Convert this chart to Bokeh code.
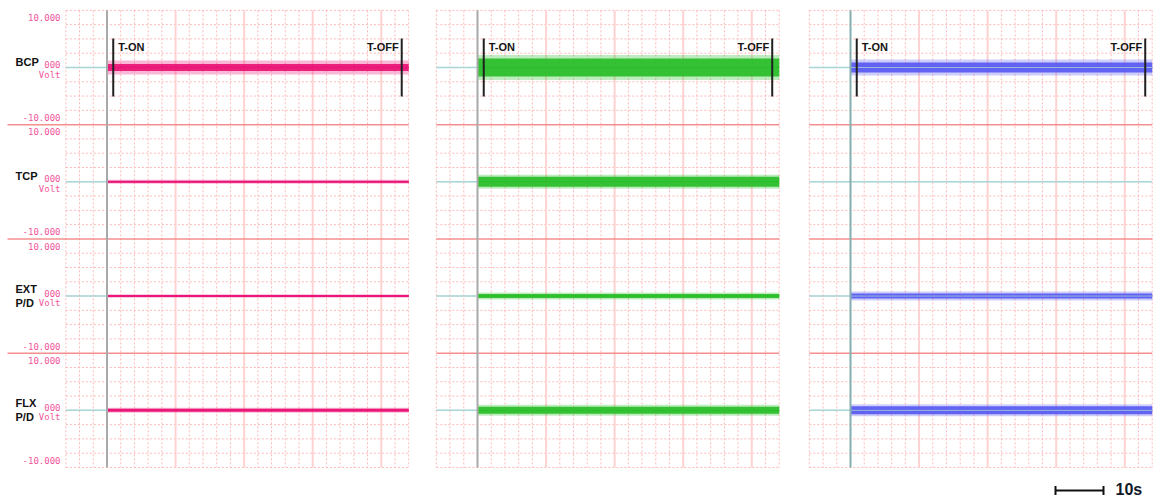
from bokeh.plotting import figure
from bokeh.layouts import row
from bokeh.core.properties import value
from bokeh.embed import file_html
from bokeh.resources import INLINE

# ---- recording content -------------------------------------------------
CHANNEL_LABELS = [["BCP"], ["TCP"], ["EXT", "P/D"], ["FLX", "P/D"]]
FULL_SCALE = 10.0                      # +/- 10 V per channel
SCALE_TEXT = ["10.000", "000", "-10.000"]
UNIT = "Volt"

PANEL_COLORS = ["#ea1677", "#2cbf2c", "#5c5cf2"]
# noise band half-widths in volts: dense core and sparse peaks (None = no signal)
NOISE_CORE = [
    [0.7, 0.2, 0.2, 0.3],
    [1.8, 1.0, 0.4, 0.7],
    [1.0, None, 0.5, 0.8],
]
NOISE_PEAK = [
    [1.4, 0.4, 0.35, 0.5],
    [2.5, 1.4, 0.7, 1.1],
    [1.6, None, 0.9, 1.2],
]
T_ON = [1.3, 1.3, 1.3]          # s
T_OFF = [61.4, 61.4, 61.4]      # s
RECORD_END = 62.86              # s
SCALE_BAR_S = 10                # s

# ---- layout -------------------------------------------------------------
DIV = 2.857                     # one grid division (s horizontally, V vertically)
ROWS_PER_CH = 8
PX_PER_S = 4.8
PX_PER_V = 5.0
ZERO_TOP_PX = 67                # first channel's zero line from the top
HEIGHT = 501
PANEL_W = [409, 371, 373]
T0_PX = [106.5, 68, 70]         # t = 0 from each panel's left edge

PINK = "#f2559d"
GRID_MINOR = "#ffb8b8"
GRID_MAJOR = "#ffd2d2"
SEPARATOR = "#f37b7b"
BASELINE = "#a6d6d6"

n_ch = len(CHANNEL_LABELS)
ch_pitch = ROWS_PER_CH * DIV
zeros = [-k * ch_pitch for k in range(n_ch)]
grid_top = ROWS_PER_CH / 2 * DIV
grid_bottom = grid_top - n_ch * ch_pitch
grid_x0, grid_x1 = -3 * DIV, 22 * DIV


def px_to_t(panel, px):
    return (px - T0_PX[panel]) / PX_PER_S


def make_panel(i):
    w = PANEL_W[i]
    p = figure(
        width=w, height=HEIGHT,
        x_range=(px_to_t(i, 0), px_to_t(i, w)),
        y_range=((ZERO_TOP_PX - HEIGHT) / PX_PER_V, ZERO_TOP_PX / PX_PER_V),
        x_axis_location=None, y_axis_location=None,
        toolbar_location=None, output_backend="svg",
        min_border=0, outline_line_color=None,
        background_fill_color="white", border_fill_color="white",
    )
    p.grid.visible = False

    # grid: dotted minor lines, solid major verticals, red channel separators
    n_rows = n_ch * ROWS_PER_CH
    hy = [grid_top - r * DIV for r in range(n_rows + 1) if r % ROWS_PER_CH or r in (0, n_rows)]
    p.segment(x0=grid_x0, x1=grid_x1, y0=hy, y1=hy,
              line_color=GRID_MINOR, line_dash="2 2", line_width=1)
    cols = list(range(-3, 23))
    vminor = [c * DIV for c in cols if not (c >= 0 and c % 5 == 0)]
    vmajor = [c * DIV for c in cols if c >= 0 and c % 5 == 0]
    p.segment(x0=vminor, x1=vminor, y0=grid_top, y1=grid_bottom,
              line_color=GRID_MINOR, line_dash="2 2", line_width=1)
    p.segment(x0=vmajor[1:], x1=vmajor[1:], y0=grid_top, y1=grid_bottom,
              line_color=GRID_MAJOR, line_width=2)
    sep_y = [grid_top - k * ch_pitch for k in range(1, n_ch)]
    sep_x0 = px_to_t(i, 7) if i == 0 else grid_x0
    p.segment(x0=sep_x0, x1=grid_x1, y0=sep_y, y1=sep_y,
              line_color=SEPARATOR, line_width=1.5, line_alpha=0.85)

    # baselines before the record starts
    for k in range(n_ch):
        end = grid_x1 if (i == 2) else 0
        p.line([grid_x0, end], [zeros[k], zeros[k]], line_color=BASELINE, line_width=1.5)

    # channel traces
    col = PANEL_COLORS[i]
    for k in range(n_ch):
        core, peak = NOISE_CORE[i][k], NOISE_PEAK[i][k]
        if core is None:
            continue
        z = zeros[k]
        p.varea(x=[0, RECORD_END], y1=[z - peak] * 2, y2=[z + peak] * 2,
                fill_color=col, fill_alpha=0.3)
        p.varea(x=[0, RECORD_END], y1=[z - core] * 2, y2=[z + core] * 2,
                fill_color=col, fill_alpha=0.95)
        p.line([0, RECORD_END], [z, z], line_color=col, line_width=1.5)

    if i == 2:
        for k in (0, 2, 3):
            p.line([0, RECORD_END], [zeros[k], zeros[k]], line_color=BASELINE,
                   line_width=1, line_alpha=0.8)

    # record start line
    start_col = "#86aeae" if i == 2 else "#a9a9a9"
    p.segment(x0=0, x1=0, y0=grid_top, y1=grid_bottom, line_color=start_col, line_width=2)

    # T-ON / T-OFF markers on the first channel
    mh = 5.8
    p.segment(x0=[T_ON[i], T_OFF[i]], x1=[T_ON[i], T_OFF[i]],
              y0=zeros[0] - mh, y1=zeros[0] + mh, line_color="#202020", line_width=2)
    p.text(x=[T_ON[i]], y=[zeros[0] + 4.2], text=["T-ON"], x_offset=5,
           text_font=value("Liberation Sans"), text_font_style="bold",
           text_font_size="11px", text_color="#151515",
           text_align="left", text_baseline="middle")
    p.text(x=[T_OFF[i]], y=[zeros[0] + 4.2], text=["T-OFF"], x_offset=-3,
           text_font=value("Liberation Sans"), text_font_style="bold",
           text_font_size="11px", text_color="#151515",
           text_align="right", text_baseline="middle")
    return p


panels = [make_panel(i) for i in range(3)]

# channel scale labels on the first panel
p1 = panels[0]
num_x = px_to_t(0, 60)
name_x = px_to_t(0, 15)
for k in range(n_ch):
    z = zeros[k]
    p1.text(x=[num_x, num_x], y=[z + FULL_SCALE, z - FULL_SCALE],
            text=[SCALE_TEXT[0], SCALE_TEXT[2]],
            text_font=value("DejaVu Sans Mono"), text_font_size="9px",
            text_color=PINK, text_align="right", text_baseline="middle")
    p1.text(x=[num_x], y=[z], text=[SCALE_TEXT[1]], y_offset=-3,
            text_font=value("DejaVu Sans Mono"), text_font_size="9px",
            text_color=PINK, text_align="right", text_baseline="middle")
    p1.text(x=[num_x], y=[z], text=[UNIT], y_offset=7,
            text_font=value("DejaVu Sans Mono"), text_font_size="9px",
            text_color=PINK, text_align="right", text_baseline="middle")
    lines = CHANNEL_LABELS[k]
    offs = [-6] if len(lines) == 1 else [-7, 7]
    for line, off in zip(lines, offs):
        p1.text(x=[name_x], y=[z], text=[line], y_offset=off,
                text_font=value("Liberation Sans"), text_font_style="bold",
                text_font_size="11px", text_color="#111111",
                text_align="left", text_baseline="middle")

# time scale bar (panel-local pixel position of its left end)
p3 = panels[2]
bar_x0 = px_to_t(2, 275)
bar_x1 = bar_x0 + SCALE_BAR_S
bar_y = (ZERO_TOP_PX - 490) / PX_PER_V
p3.segment(x0=bar_x0, x1=bar_x1, y0=bar_y, y1=bar_y, line_color="#111111", line_width=2)
p3.segment(x0=[bar_x0, bar_x1], x1=[bar_x0, bar_x1], y0=bar_y - 0.9, y1=bar_y + 0.9,
           line_color="#111111", line_width=2)
p3.text(x=[bar_x1], y=[bar_y], text=[f"{SCALE_BAR_S}s"], x_offset=12, y_offset=-1,
        text_font=value("Liberation Sans"), text_font_style="bold",
        text_font_size="16px", text_color="#111827",
        text_align="left", text_baseline="middle")

layout = row(*panels, spacing=0)
open("out.html", "w").write(file_html(layout, INLINE))
